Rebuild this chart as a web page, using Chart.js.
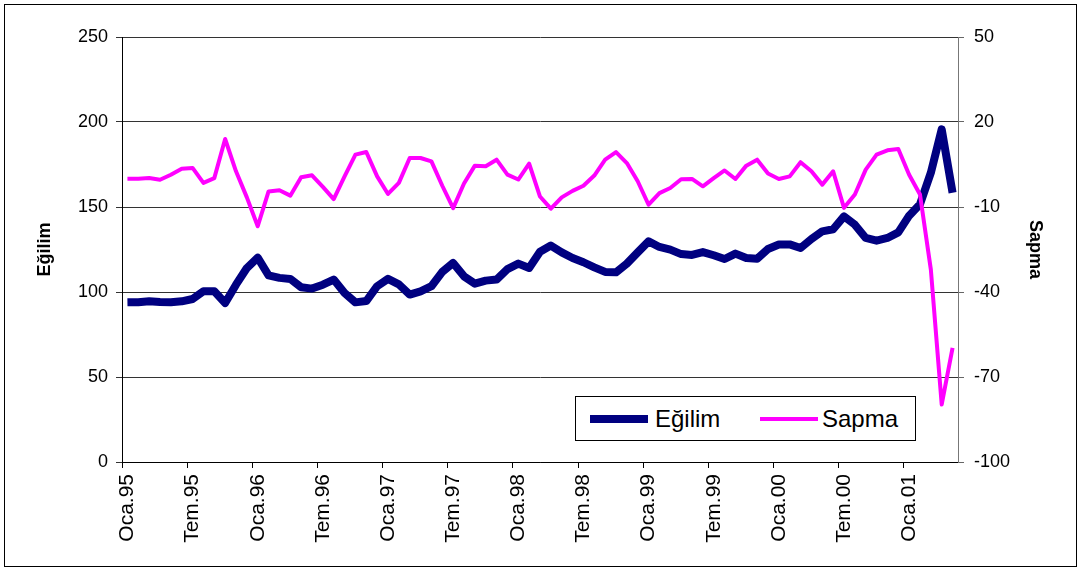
<!DOCTYPE html>
<html>
<head>
<meta charset="utf-8">
<script src="https://cdn.jsdelivr.net/npm/chart.js@4.4.0/dist/chart.umd.min.js"></script>
<style>
  body { margin: 0; background: #fff; }
  #wrap { position: relative; width: 1082px; height: 569px; }
  #legend {
    position: absolute; left: 575px; top: 396px; width: 341px; height: 45px;
    border: 1px solid #000; box-sizing: border-box; background: #fff;
    font-family: "Liberation Sans", Arial, sans-serif; font-size: 24px;
  }
  #legend span { position: absolute; }
  .key { width: 58px; }
</style>
</head>
<body>
<div id="wrap">
  <canvas id="chart" width="1082" height="569"></canvas>
  <div id="legend">
    <span class="key" style="left:14px;top:18px;height:8px;background:#000080"></span>
    <span style="left:79px;top:8px">Eğilim</span>
    <span class="key" style="left:184px;top:20px;height:4px;background:#ff00ff"></span>
    <span style="left:246px;top:8px">Sapma</span>
  </div>
</div>
<script>
// aylar ve yillar (Oca.95 - May.01)
const months = ['Oca','Şub','Mar','Nis','May','Haz','Tem','Ağu','Eyl','Eki','Kas','Ara'];
const years = ['95','96','97','98','99','00','01'];
const monthCount = 77;

const egilim = [
  93.9, 94.0, 94.5, 94.1, 94.0, 94.5, 95.9, 100.4, 100.4, 93.5, 104.3, 114.1,
  120.2, 109.8, 108.3, 107.7, 102.8, 102.0, 104.3, 107.3, 99.4, 93.9, 94.7, 103.4,
  107.7, 104.5, 98.5, 100.4, 103.4, 111.8, 117.1, 109.2, 104.9, 106.7, 107.3, 113.5,
  116.7, 114.1, 123.7, 127.3, 123.3, 120.0, 117.5, 114.5, 111.8, 111.6, 116.7, 123.3,
  129.8, 126.5, 124.9, 122.3, 121.8, 123.5, 121.6, 119.4, 122.6, 120.0, 119.6, 125.3,
  127.9, 128.0, 125.9, 131.2, 135.7, 136.9, 144.5, 139.6, 131.8, 130.2, 131.8, 135.1,
  144.9, 151.6, 170.2, 195.7, 158.4
];

const sapma = [
  0.0, 0.0, 0.2, -0.4, 1.4, 3.5, 3.8, -1.5, 0.2, 14.0, 2.6, -6.6,
  -16.8, -4.5, -4.1, -6.0, 0.5, 1.2, -2.9, -7.2, 0.8, 8.5, 9.4, 0.8,
  -5.4, -1.5, 7.3, 7.3, 6.1, -2.5, -10.4, -1.7, 4.6, 4.4, 6.7, 1.4,
  -0.3, 5.3, -6.3, -10.6, -6.6, -4.3, -2.5, 1.1, 6.7, 9.4, 5.5, -0.9,
  -9.2, -5.1, -3.3, -0.2, -0.1, -2.7, 0.2, 2.9, -0.1, 4.6, 6.7, 1.8,
  -0.1, 0.8, 5.8, 2.6, -2.1, 2.6, -10.3, -5.6, 3.2, 8.5, 10.0, 10.5,
  1.4, -5.6, -32.1, -79.7, -59.7
];

const categories = [];
for (let i = 0; i < monthCount; i++) {
  categories.push(months[i % 12] + '.' + years[Math.floor(i / 12)]);
}

const font = "'Liberation Sans', Arial, sans-serif";

const frame = {
  id: 'frame',
  afterDraw(chart) {
    const c = chart.ctx;
    c.save();
    c.strokeStyle = '#000';
    c.lineWidth = 1;
    c.strokeRect(4.5, 4.5, 1072, 562);
    c.restore();
  }
};

new Chart(document.getElementById('chart'), {
  type: 'line',
  data: {
    labels: categories,
    datasets: [
      {
        label: 'Eğilim',
        data: egilim,
        yAxisID: 'y',
        borderColor: '#000080',
        borderWidth: 8,
        pointRadius: 0,
        tension: 0,
        borderJoinStyle: 'round',
        order: 1
      },
      {
        label: 'Sapma',
        data: sapma,
        yAxisID: 'y2',
        borderColor: '#ff00ff',
        borderWidth: 4,
        pointRadius: 0,
        tension: 0,
        borderJoinStyle: 'round',
        order: 0
      }
    ]
  },
  options: {
    responsive: false,
    animation: false,
    devicePixelRatio: 1,
    layout: { padding: { top: 37, left: 0, right: 0, bottom: 0 } },
    plugins: { legend: { display: false }, tooltip: { enabled: false } },
    scales: {
      x: {
        offset: true,
        afterFit: s => { s.height = 107; },
        grid: {
          offset: true,
          drawOnChartArea: false,
          tickLength: 6,
          color: c => (c.index % 6 === 0 ? '#000' : 'rgba(0,0,0,0)')
        },
        border: { color: '#000' },
        ticks: {
          autoSkip: false,
          maxRotation: 90,
          minRotation: 90,
          padding: 6,
          color: '#000',
          font: { family: font, size: 21 },
          callback: (v, i) => (i % 6 === 0 ? categories[i] : '')
        }
      },
      y: {
        position: 'left',
        min: 0,
        max: 250,
        afterFit: s => { s.width = 122; },
        grid: { color: '#333', tickLength: 6 },
        border: { color: '#000' },
        ticks: { stepSize: 50, padding: 8, color: '#000', font: { family: font, size: 18 } },
        title: {
          display: true, text: 'Eğilim', color: '#000',
          font: { family: font, size: 18, weight: 'bold' },
          padding: { top: 34, bottom: 0 }
        }
      },
      y2: {
        position: 'right',
        min: -100,
        max: 50,
        afterFit: s => { s.width = 124; },
        grid: { drawOnChartArea: false, color: '#666', tickLength: 6 },
        border: { color: '#777' },
        ticks: { stepSize: 30, padding: 10, color: '#000', font: { family: font, size: 18 } },
        title: {
          display: true, text: 'Sapma', color: '#000',
          font: { family: font, size: 18, weight: 'bold' },
          padding: { top: 36, bottom: 0 }
        }
      }
    }
  },
  plugins: [frame]
});
</script>
</body>
</html>
